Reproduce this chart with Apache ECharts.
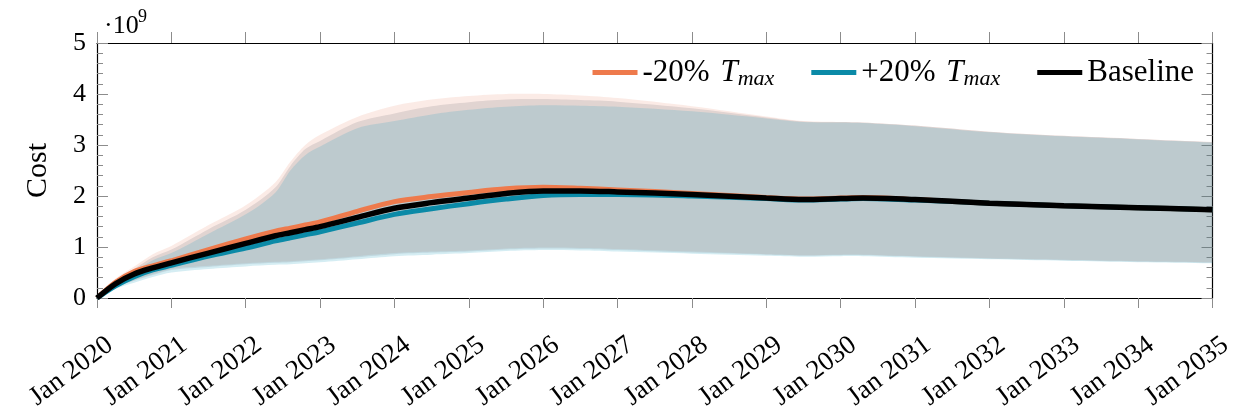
<!DOCTYPE html>
<html>
<head>
<meta charset="utf-8">
<script src="https://cdn.jsdelivr.net/npm/echarts@6/dist/echarts.min.js"></script>
<style>
html,body{margin:0;padding:0;background:#fff;}
#chart{width:1236px;height:419px;}
</style>
</head>
<body>
<div id="chart"></div>
<script>
// x positions (decimal years)
const years = [2020, 2020.25, 2020.5, 2020.75, 2021, 2021.5, 2022, 2022.4, 2022.6, 2022.8, 2023, 2023.5, 2024, 2024.5, 2025, 2025.5, 2026, 2026.5, 2027, 2028, 2029, 2029.5, 2030, 2030.3, 2031, 2032, 2033, 2034, 2035];
const xTickYears = [2020, 2021, 2022, 2023, 2024, 2025, 2026, 2027, 2028, 2029, 2030, 2031, 2032, 2033, 2034, 2035];
const yTicks = [0, 1, 2, 3, 4, 5];

// mean lines (x 1e9)
const baseline = [0, 0.28, 0.47, 0.59, 0.69, 0.88, 1.07, 1.22, 1.28, 1.34, 1.40, 1.58, 1.76, 1.87, 1.96, 2.05, 2.10, 2.10, 2.08, 2.03, 1.96, 1.93, 1.95, 1.96, 1.93, 1.86, 1.81, 1.77, 1.73];
const minus20 = [0, 0.31, 0.52, 0.63, 0.73, 0.95, 1.16, 1.31, 1.37, 1.43, 1.49, 1.70, 1.89, 1.99, 2.07, 2.14, 2.17, 2.15, 2.12, 2.05, 1.97, 1.94, 1.96, 1.97, 1.93, 1.86, 1.81, 1.77, 1.73];
const plus20 = [0, 0.24, 0.42, 0.55, 0.64, 0.82, 0.98, 1.12, 1.18, 1.24, 1.30, 1.47, 1.64, 1.75, 1.85, 1.94, 2.01, 2.03, 2.03, 2.00, 1.95, 1.92, 1.94, 1.95, 1.92, 1.86, 1.81, 1.77, 1.73];

// band bounds
const minus20Hi = [0, 0.38, 0.62, 0.86, 1.02, 1.43, 1.82, 2.27, 2.67, 3.00, 3.20, 3.55, 3.77, 3.89, 3.96, 4.00, 4.00, 3.97, 3.92, 3.76, 3.56, 3.47, 3.45, 3.44, 3.38, 3.26, 3.18, 3.12, 3.06];
const minus20Lo = [0, 0.22, 0.35, 0.47, 0.57, 0.63, 0.68, 0.71, 0.72, 0.74, 0.76, 0.82, 0.88, 0.91, 0.93, 0.97, 0.99, 0.98, 0.96, 0.91, 0.86, 0.84, 0.85, 0.85, 0.82, 0.78, 0.75, 0.72, 0.70];
const baselineHi = [0, 0.35, 0.57, 0.80, 0.95, 1.35, 1.73, 2.17, 2.59, 2.92, 3.08, 3.45, 3.62, 3.76, 3.84, 3.89, 3.90, 3.88, 3.85, 3.72, 3.54, 3.46, 3.45, 3.44, 3.38, 3.26, 3.18, 3.12, 3.06];
const baselineLo = [0, 0.21, 0.34, 0.45, 0.55, 0.61, 0.66, 0.69, 0.70, 0.72, 0.74, 0.80, 0.86, 0.89, 0.91, 0.95, 0.97, 0.96, 0.94, 0.89, 0.85, 0.83, 0.84, 0.84, 0.81, 0.77, 0.74, 0.71, 0.69];
const plus20Hi = [0, 0.32, 0.52, 0.74, 0.88, 1.26, 1.64, 2.07, 2.50, 2.80, 2.97, 3.33, 3.47, 3.60, 3.69, 3.75, 3.78, 3.77, 3.75, 3.66, 3.52, 3.45, 3.44, 3.43, 3.37, 3.25, 3.17, 3.11, 3.05];
const plus20Lo = [0, 0.18, 0.30, 0.41, 0.50, 0.57, 0.62, 0.65, 0.66, 0.68, 0.70, 0.76, 0.82, 0.85, 0.88, 0.92, 0.94, 0.93, 0.91, 0.87, 0.83, 0.81, 0.82, 0.82, 0.79, 0.76, 0.73, 0.70, 0.68];

const seriesNames = ['-20% T_max', '+20% T_max', 'Baseline'];

const FONT = 'Liberation Serif';
const ORANGE = '#EE7A4C';
const BLUE = '#0B8AA7';
const BLACK = '#000000';
const SMOOTH = 0.3;

// smooth path through pixel points (same scheme as ECharts' line smoothing, x-monotone)
function curveCmds(pts, first) {
  let d = first ? ('M' + pts[0][0] + ',' + pts[0][1]) : ('L' + pts[0][0] + ',' + pts[0][1]);
  const n = pts.length;
  function cps(i) {
    const p = pts[i];
    const prev = pts[Math.max(i - 1, 0)];
    const next = pts[Math.min(i + 1, n - 1)];
    const vx = next[0] - prev[0], vy = next[1] - prev[1];
    const l0 = Math.abs(p[0] - prev[0]), l1 = Math.abs(next[0] - p[0]);
    const r = (l0 + l1) > 0 ? l1 / (l0 + l1) : 0.5;
    return {
      nx: p[0] + vx * SMOOTH * r, ny: p[1] + vy * SMOOTH * r,
      px: p[0] - vx * SMOOTH * (1 - r), py: p[1] - vy * SMOOTH * (1 - r)
    };
  }
  for (let i = 0; i < n - 1; i++) {
    const a = cps(i), b = cps(i + 1);
    const p1 = pts[i + 1];
    d += 'C' + a.nx + ',' + a.ny + ' ' + b.px + ',' + b.py + ' ' + p1[0] + ',' + p1[1];
  }
  return d;
}

function band(lo, hi, fill) {
  return {
    type: 'custom', silent: true, z: 1,
    data: [[years[0], lo[0]]],
    renderItem: function (params, api) {
      const up = years.map((x, i) => api.coord([x, hi[i]]));
      const dn = years.map((x, i) => api.coord([x, lo[i]])).reverse();
      const d = curveCmds(up, true) + curveCmds(dn, false) + 'Z';
      return { type: 'path', shape: { pathData: d }, style: { fill: fill, stroke: null } };
    }
  };
}
function mainLine(name, ys, color, w) {
  return { type: 'line', name: name, data: years.map((x, i) => [x, ys[i]]), smooth: SMOOTH, showSymbol: false, color: color,
    lineStyle: { color: color, width: w }, itemStyle: { color: color }, z: 3 };
}

const chart = echarts.init(document.getElementById('chart'), null, { renderer: 'canvas' });

const tickGray = '#8c8c8c';
const option = {
  animation: false,
  backgroundColor: '#fff',
  grid: { left: 97, right: 12, top: 43, bottom: 121 },
  legend: {
    data: seriesNames,
    right: 37, top: 52,
    icon: 'rect', itemWidth: 45, itemHeight: 5, itemGap: 37,
    textStyle: {
      fontFamily: FONT, fontSize: 31, color: '#000',
      rich: {
        n: { fontFamily: FONT, fontSize: 31, color: '#000', padding: [0, 3, 0, 0] },
        i: { fontFamily: FONT, fontSize: 31, fontStyle: 'italic', color: '#000' },
        s: { fontFamily: FONT, fontSize: 22, fontStyle: 'italic', color: '#000', padding: [14, 4, 0, 0] }
      }
    },
    formatter: function (name) {
      if (name.indexOf('T_max') >= 0) {
        return '{n|' + name.split(' ')[0] + ' }{i|T}{s|max}';
      }
      return '{n|' + name + '}';
    }
  },
  xAxis: [
    { type: 'value', min: xTickYears[0], max: xTickYears[xTickYears.length - 1], interval: 1, position: 'bottom',
      axisLine: { show: true, onZero: false, lineStyle: { color: '#000', width: 1.2 } },
      axisTick: { show: true, inside: false, length: 10, lineStyle: { color: tickGray, width: 1 } },
      splitLine: { show: false },
      axisLabel: { show: true, rotate: 37, align: 'right', verticalAlign: 'top', padding: [8, 0, 0, 0], margin: 27,
        fontFamily: FONT, fontSize: 27, color: '#000',
        formatter: function (v) { return 'Jan ' + Math.round(v); } } },
    { type: 'value', min: xTickYears[0], max: xTickYears[xTickYears.length - 1], interval: 1, position: 'top',
      axisLine: { show: true, onZero: false, lineStyle: { color: '#000', width: 1.2 } },
      axisTick: { show: true, inside: false, length: 11, lineStyle: { color: tickGray, width: 1 } },
      splitLine: { show: false }, axisLabel: { show: false } }
  ],
  yAxis: [
    { type: 'value', min: yTicks[0], max: yTicks[yTicks.length - 1], interval: 1, position: 'left',
      name: 'Cost', nameLocation: 'middle', nameGap: 44,
      nameTextStyle: { fontFamily: FONT, fontSize: 30, color: '#000' },
      axisLine: { show: true, onZero: false, lineStyle: { color: '#000', width: 1.2 } },
      axisTick: { show: true, inside: true, length: 11, lineStyle: { color: tickGray, width: 1 } },
      minorTick: { show: true, splitNumber: 5, length: 6, lineStyle: { color: tickGray, width: 1 } },
      splitLine: { show: false }, minorSplitLine: { show: false },
      axisLabel: { show: true, margin: 11, fontFamily: FONT, fontSize: 26, color: '#000' } },
    { type: 'value', min: yTicks[0], max: yTicks[yTicks.length - 1], interval: 1, position: 'right',
      axisLine: { show: true, onZero: false, lineStyle: { color: '#000', width: 1.2 } },
      axisTick: { show: true, inside: true, length: 11, lineStyle: { color: tickGray, width: 1 } },
      minorTick: { show: true, splitNumber: 5, length: 6, lineStyle: { color: tickGray, width: 1 } },
      splitLine: { show: false }, axisLabel: { show: false } }
  ],
  graphic: [
    { type: 'text', left: 104, top: 13, style: { text: '·10', fontFamily: FONT, fontSize: 26, fill: '#000' } },
    { type: 'text', left: 138, top: 8, style: { text: '9', fontFamily: FONT, fontSize: 18, fill: '#000' } }
  ],
  series: [
    band(minus20Lo, minus20Hi, 'rgba(228,122,88,0.15)'),
    band(baselineLo, baselineHi, 'rgba(0,5,30,0.10)'),
    band(plus20Lo, plus20Hi, 'rgba(44,167,195,0.20)'),
    mainLine(seriesNames[0], minus20, ORANGE, 5),
    mainLine(seriesNames[1], plus20, BLUE, 5),
    mainLine(seriesNames[2], baseline, BLACK, 5.5)
  ]
};
chart.setOption(option);
</script>
</body>
</html>
